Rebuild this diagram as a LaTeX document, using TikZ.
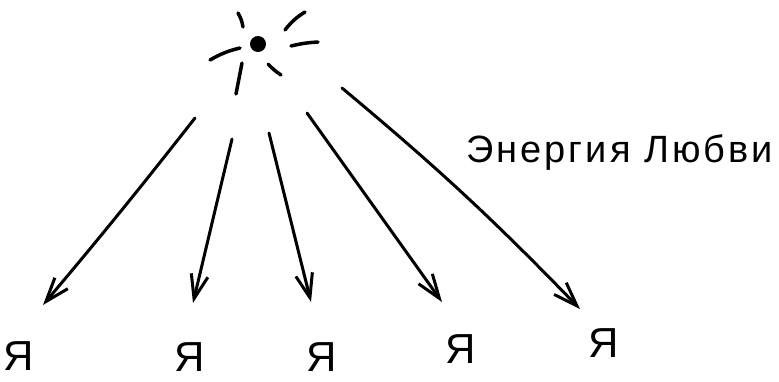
\documentclass[tikz,border=0pt]{standalone}
\usepackage{fontspec}
\setmainfont{Liberation Sans}
\usetikzlibrary{arrows.meta}
\begin{document}
\begin{tikzpicture}[x=1pt,y=-1pt,
  ray/.style={line width=3.5pt,line cap=round},
  beam/.style={line width=3pt,line cap=round,
    -{Straight Barb[length=24pt,width=17pt,line width=3pt]}},
  me/.style={font=\fontsize{42}{42}\selectfont,inner sep=0pt}]
\useasboundingbox[fill=white] (0,0) rectangle (779,381);
% sun
\node[circle,fill=black,minimum width=13pt,minimum height=16pt,inner sep=0pt,rotate=20] (sun) at (258,44) {};
\draw[ray] (238,13) to[bend left=10] (243,27);
\draw[ray] (285,30) to[bend left=10] (305,12);
\draw[ray] (291,46) to[bend left=5] (318,42);
\draw[ray] (210,60) to[bend left=8] (240,48);
\draw[ray] (242,63) -- (236,94);
\draw[ray] (268,64) to[bend right=6] (281,75);
% arrow ends
\coordinate (s1) at (195,118); \coordinate (t1) at (43,305);
\coordinate (s2) at (232,139); \coordinate (t2) at (193,303);
\coordinate (s3) at (269,133); \coordinate (t3) at (311,302);
\coordinate (s4) at (307,113); \coordinate (t4) at (442,302);
\coordinate (s5) at (342,88);  \coordinate (t5) at (580,309);
\draw[beam] (s1) to[bend left=1] (t1);
\draw[beam] (s2) -- (t2);
\draw[beam] (s3) -- (t3);
\draw[beam] (s4) -- (t4);
\draw[beam] (s5) to[bend left=3] (t5);
% I
\node[me] (y1) at (19,356) {Я};
\node[me] (y2) at (190,357) {Я};
\node[me] (y3) at (322,357) {Я};
\node[me] (y4) at (461,349) {Я};
\node[me] (y5) at (604,343) {Я};
% label
\node[anchor=base west,inner sep=0pt,font=\fontsize{38}{38}\selectfont\addfontfeature{LetterSpace=8}] (lbl) at (466,162) {Энергия Любви};
\end{tikzpicture}
\end{document}
